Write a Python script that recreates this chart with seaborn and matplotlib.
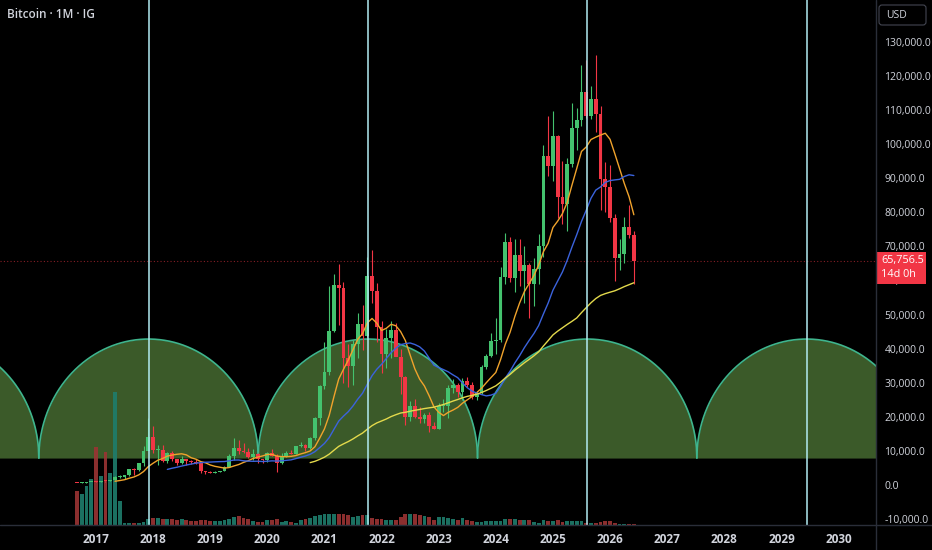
"""
Bitcoin monthly candles (IG) with SMA 9/20/50, volume and cycle arcs, TradingView dark style.
"""

import numpy as np
import pandas as pd
import matplotlib
matplotlib.use("Agg")
import matplotlib.pyplot as plt
from matplotlib.patches import Rectangle, FancyBboxPatch
from matplotlib.lines import Line2D
import seaborn as sns

# ---- data: monthly candles Sep 2016 .. Jun 2026 ----
first_month = "2016-09"
first_open = 612
closes = [
    609, 700, 745, 964,
    962, 1190, 1080, 1350, 2300, 2480, 2875, 4700, 4340, 6470, 9950, 14150,
    10200, 10300, 6930, 9240, 7500, 6390, 7730, 7030, 6630, 6370, 4040, 3740,
    3460, 3850, 4110, 5350, 8570, 10820, 10090, 9630, 8300, 9200, 7570, 7190,
    9350, 8600, 6440, 8650, 9460, 9140, 11350, 11680, 10780, 13800, 19700, 28990,
    33110, 45140, 58790, 57720, 37330, 35040, 41460, 47100, 43790, 61300, 57000, 46300,
    38480, 43190, 45540, 37640, 31800, 19950, 23310, 20050, 19430, 20500, 17170, 16550,
    23140, 23150, 28480, 29250, 27220, 30480, 29230, 25940, 26970, 34660, 37720, 42270,
    42580, 61130, 71290, 60640, 67490, 62680, 64620, 58970, 63330, 70220, 96450, 93430,
    102400, 84370, 82550, 94200, 104600, 107100, 115300, 108200, 113100, 108700, 89800, 87400,
    78200, 66600, 67800, 75800, 73300, 65756.5,
]
highs = [
    628, 740, 757, 975,
    1150, 1200, 1290, 1350, 2760, 2980, 2920, 4760, 4980, 6470, 11500, 19780,
    17200, 11800, 11700, 9750, 9990, 7750, 8500, 7760, 7400, 7680, 6600, 4250,
    4110, 4210, 4110, 5600, 9100, 13880, 13150, 12340, 10950, 10540, 9500, 7750,
    9600, 10500, 9200, 9470, 10070, 10400, 11450, 12480, 12050, 14100, 19900, 29300,
    41950, 58350, 61780, 64860, 59600, 41330, 42400, 50500, 52900, 67000, 69000, 59100,
    47990, 45800, 48200, 47450, 40000, 31900, 24650, 25200, 22800, 21100, 21450, 18400,
    23950, 25250, 29190, 31000, 29850, 31400, 31800, 30200, 27480, 35200, 38450, 44700,
    48970, 64000, 73800, 72800, 72000, 72000, 70000, 65100, 66500, 73600, 99600, 108300,
    109600, 102500, 95000, 95800, 111900, 110500, 123200, 124500, 117000, 126200, 111000, 94600,
    93700, 79500, 72000, 78700, 82100, 74500,
]
lows = [
    570, 605, 680, 740,
    752, 915, 890, 1050, 1350, 2080, 1830, 2670, 2970, 4110, 5520, 10400,
    9400, 6000, 6600, 6450, 7060, 5800, 6070, 5880, 6100, 6200, 3550, 3150,
    3400, 3400, 3760, 4100, 5330, 7450, 9100, 9350, 7800, 7300, 6530, 6430,
    6850, 8450, 3800, 6150, 8100, 8950, 8980, 11100, 9880, 10450, 13200, 17600,
    28130, 32300, 44950, 47040, 30000, 28800, 29280, 37330, 39600, 43300, 53250, 42000,
    32950, 34300, 37200, 37700, 26700, 17600, 18800, 19550, 18150, 18200, 15500, 16300,
    16500, 21400, 19550, 26950, 25810, 24800, 28860, 25170, 24900, 26550, 34100, 37630,
    38550, 41880, 59000, 59600, 56550, 58400, 53500, 49000, 52600, 58900, 66800, 90500,
    89200, 78200, 76600, 74500, 93400, 98200, 105300, 107500, 107300, 103500, 80600, 80100,
    77000, 59800, 63000, 65000, 72500, 58800,
]
# volume (relative units)
volumes = [
    34, 31, 39, 46,
    78, 49, 73, 52, 133, 24, 2, 2, 2.5, 2.5, 3, 5.7,
    7.3, 7, 6.5, 6, 6, 5.5, 6, 5.5, 4.5, 4, 5.5, 5,
    4.5, 4, 4, 5, 6.5, 8, 9, 7, 6, 4.3, 3, 3,
    4.7, 5, 5.7, 2.7, 4.3, 2.7, 2, 5, 5.7, 6.7, 9, 10,
    11.3, 11, 10.7, 11, 10.7, 10, 8.3, 9, 9.7, 9.7, 6.7, 6,
    5.7, 5.3, 5.3, 4.7, 7.7, 11, 11, 10.7, 9.7, 9, 8, 5.3,
    8, 7.7, 7.3, 6, 5, 6.7, 5, 3.7, 3, 3.3, 3.7, 3.7,
    3.7, 4, 5.7, 6, 6.3, 5, 5.3, 5.3, 2.7, 2, 5.3, 3.7,
    4.3, 4.7, 3, 3.7, 4.3, 3.7, 3.7, 2.3, 1.7, 1.7, 2.7, 3.7,
    3.7, 2.3, 1.3, 1.3, 1, 1,
]

ma_lengths = [9, 20, 50]
ma_colors = ["#f0a32c", "#3b63dc", "#e3d94c"]

# cycle arcs (tops marked by vertical lines)
cycle_tops = [2014.08, 2017.92, 2021.76, 2025.60, 2029.44]
arc_half_width = 1.92
arc_base = 7900
arc_peak = 42800

year_ticks = list(range(2017, 2031))
price_ticks = list(range(-10000, 130001, 10000))
title = "Bitcoin · 1M · IG"
countdown = "14d 0h"

# ---- frame ----
dates = pd.period_range(first_month, periods=len(closes), freq="M")
df = pd.DataFrame({"close": closes, "high": highs, "low": lows, "vol": volumes})
df["open"] = [first_open] + closes[:-1]
df["t"] = dates.year + (dates.month - 1) / 12
df["up"] = df["close"] >= df["open"]
for n in ma_lengths:
    df[f"sma{n}"] = df["close"].rolling(n).mean()

# ---- style ----
sns.set_theme(style="dark", rc={"axes.facecolor": "black", "figure.facecolor": "black"})
plt.rcParams["font.family"] = ["Open Sans", "DejaVu Sans"]

UP, DOWN = "#44c26e", "#f23645"
VOL_UP, VOL_DOWN = "#1f7d6c", "#9b3434"
TXT = "#d1d4dc"
GRID = "#2a2e39"

W, H = 932, 550
AX_R, AX_B = 876, 525
fig = plt.figure(figsize=(W / 100, H / 100), dpi=100, facecolor="black")
ax = fig.add_axes([0, (H - AX_B) / H, AX_R / W, AX_B / H])
ax.set_facecolor("black")
ax.set_xlim(2015.320, 2030.656)
ax.set_ylim(-11730, 142230)

# cycle arcs
for c in cycle_tops:
    tt = np.linspace(c - arc_half_width, c + arc_half_width, 500)
    yy = arc_base + (arc_peak - arc_base) * np.sqrt(np.clip(1 - ((tt - c) / arc_half_width) ** 2, 0, 1))
    ax.fill_between(tt, arc_base, yy, color="#3b5a29", lw=0, zorder=1)
    ax.plot(tt, yy, color="#3fb58d", lw=1.2, zorder=1.5)

# volume, bottom quarter of the pane
vol_share = 0.253
vol_colors = np.where(df["up"], VOL_UP, VOL_DOWN)
ax.bar(df["t"], df["vol"] / df["vol"].max() * vol_share, width=0.8 / 12, bottom=0,
       color=vol_colors, alpha=0.9, lw=0, transform=ax.get_xaxis_transform(), zorder=2)

# candles
c_colors = np.where(df["up"], UP, DOWN)
ax.vlines(df["t"], df["low"], df["high"], colors=c_colors, lw=0.8, zorder=3)
body = (df["close"] - df["open"]).abs().clip(lower=300)
ax.bar(df["t"], body, bottom=np.minimum(df["open"], df["close"]), width=0.8 / 12,
       color=c_colors, lw=0, zorder=3.1)

# moving averages
for n, col in zip(ma_lengths, ma_colors):
    d = df.dropna(subset=[f"sma{n}"])
    sns.lineplot(data=d, x="t", y=f"sma{n}", ax=ax, color=col, lw=1.0,
                 estimator=None, legend=False, zorder=4)

# cycle top lines
for c in cycle_tops[1:]:
    ax.axvline(c, color="#b2ebf2", lw=1.1, zorder=6)

# last price line
last = df["close"].iloc[-1]
ax.axhline(last, color=DOWN, alpha=0.55, lw=0.8, ls=(0, (1, 2)), zorder=2.5)

# axes
for s in ax.spines.values():
    s.set_visible(False)
ax.grid(False)
ax.set_xlabel("")
ax.set_ylabel("")
ax.set_xticks(year_ticks)
ax.set_xticklabels([str(y) for y in year_ticks])
ax.tick_params(axis="x", length=0, pad=6, labelsize=8.5, labelcolor=TXT)
for lbl in ax.get_xticklabels():
    lbl.set_fontweight("bold")
ax.yaxis.tick_right()
ax.set_yticks(price_ticks)
ax.set_yticklabels([f"{v:,.1f}" for v in price_ticks])
ax.tick_params(axis="y", length=0, pad=6, labelsize=7.5, labelcolor=TXT)

# frame lines
fig.add_artist(Line2D([0, 1], [(H - AX_B) / H] * 2, transform=fig.transFigure, color=GRID, lw=1))
fig.add_artist(Line2D([AX_R / W] * 2, [0, 1], transform=fig.transFigure, color=GRID, lw=1))

# title
fig.text(7 / W, 1 - 15 / H, title, color=TXT, fontsize=8.5, fontweight="semibold", va="center")

# USD box
fig.add_artist(FancyBboxPatch((879 / 100, (H - 25) / 100), 47 / 100, 20 / 100,
                              boxstyle="round,pad=0,rounding_size=0.03",
                              transform=fig.dpi_scale_trans, fc="black", ec="#434651", lw=0.8))
fig.text(886 / W, 1 - 15 / H, "USD", color=TXT, fontsize=7.5, va="center")

# last price tag
fig.canvas.draw()
_, py = ax.transData.transform((2020, last))
tag_top = py + 9
fig.add_artist(Rectangle((AX_R / 100, (tag_top - 32) / 100), 50 / 100, 32 / 100,
                         transform=fig.dpi_scale_trans, color=DOWN, lw=0))
fig.text((AX_R + 5) / W, py / H, f"{last:,.1f}", color="white", fontsize=7.8, va="center")
fig.text((AX_R + 5) / W, (py - 14) / H, countdown, color="white", fontsize=7.8, va="center")

fig.savefig("out.png", dpi=100, facecolor="black")
